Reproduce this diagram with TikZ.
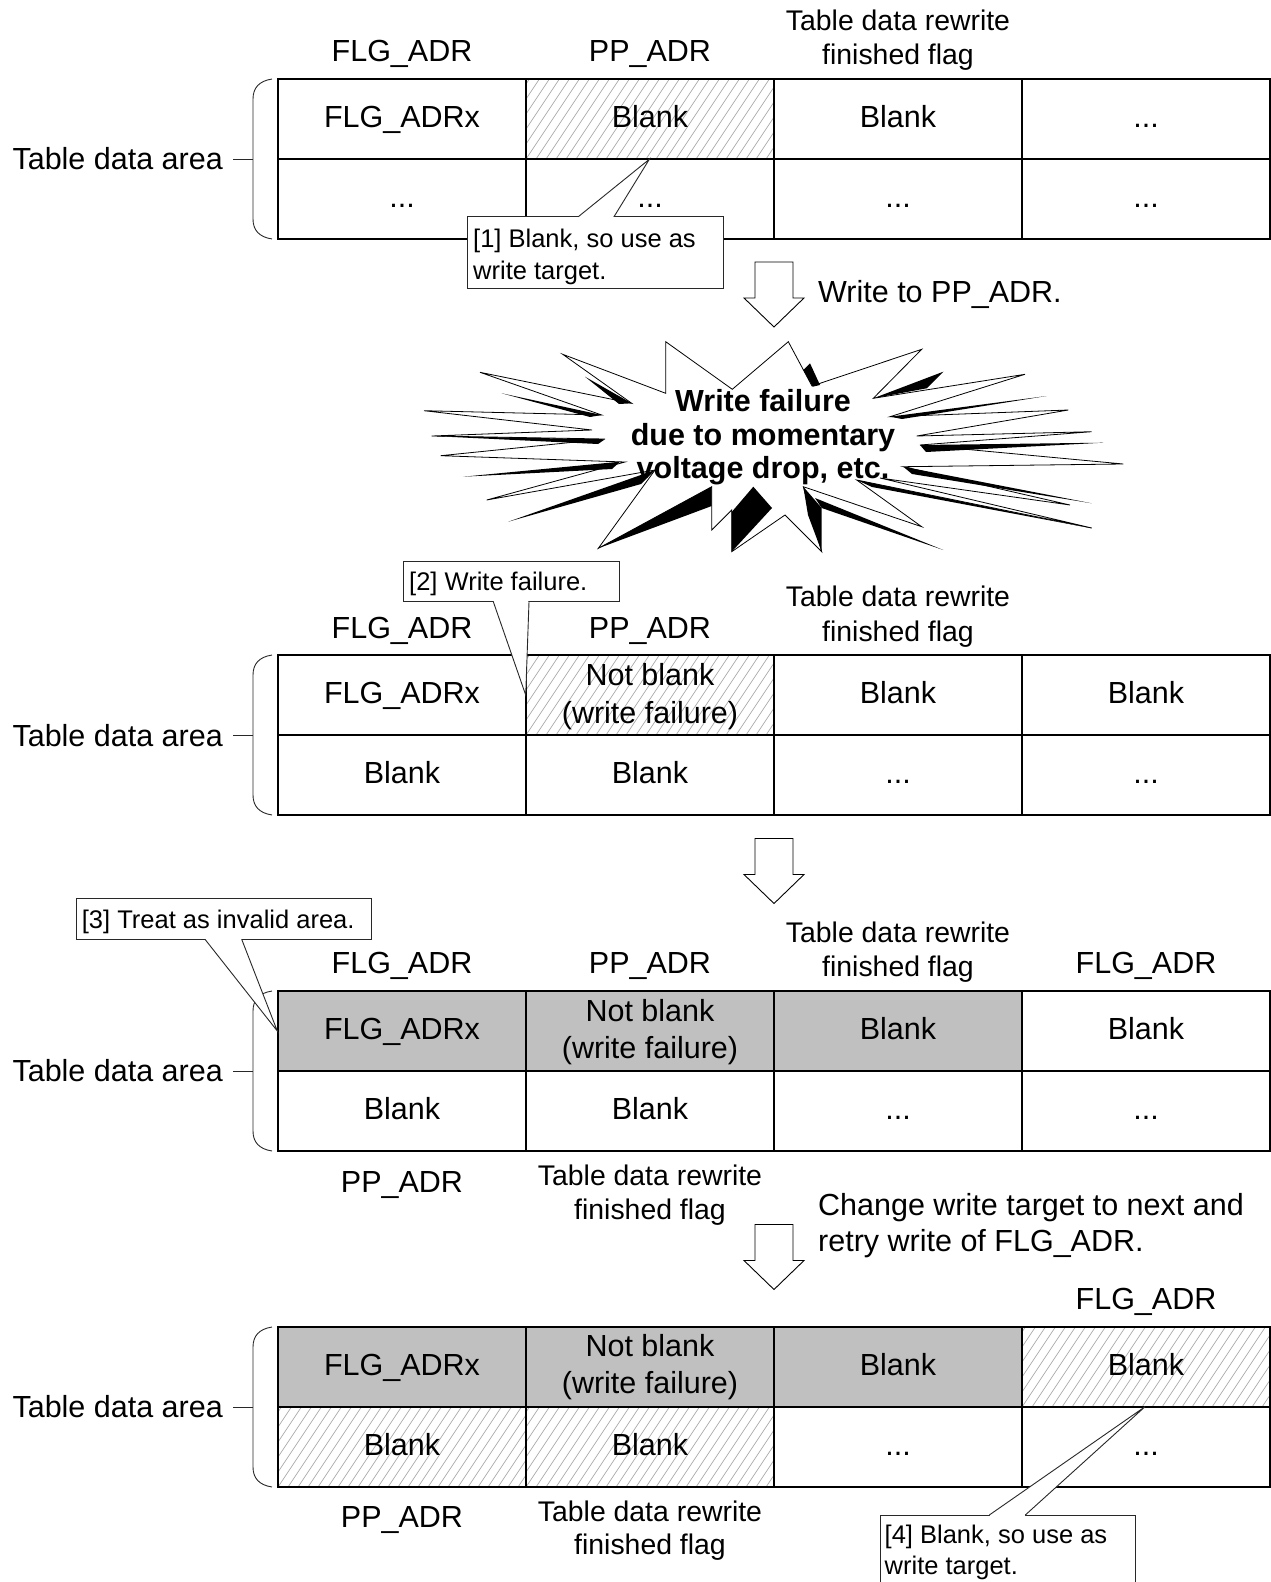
\documentclass[tikz,border=0pt]{standalone}
\usepackage{fontspec}
\setmainfont{Liberation Sans}
\usetikzlibrary{calc}
\definecolor{cellgrey}{RGB}{192,192,192}
\definecolor{hatchgrey}{RGB}{170,170,170}
\definecolor{linegrey}{RGB}{40,40,40}
\newcommand\fmain{\fontsize{30.5}{34.3}\selectfont}
\newcommand\fhead{\fontsize{28.4}{34}\selectfont}
\newcommand\fcall{\fontsize{25.5}{31.5}\selectfont}
\newcommand\fstar{\bfseries\fontsize{30.5}{33.8}\selectfont}
\tikzset{
  cell/.style={draw, line width=1.5pt, minimum width=248pt, minimum height=80pt, inner sep=0pt},
  grey/.style={fill=cellgrey},
  hatch/.style={path picture={
      \foreach \k in {-140,-130,...,260}{
        \draw[hatchgrey, line width=0.7pt] ([xshift=\k]path picture bounding box.south west) -- ++(60pt,90pt);}}},
  txt/.style={font=\fmain, inner sep=0pt, anchor=base},
  htxt/.style={font=\fhead, inner sep=0pt, anchor=base},
  ctxt/.style={font=\fcall, inner sep=0pt, anchor=base west},
  cbox/.style={draw=linegrey, line width=0.9pt, fill=white},
  cptr/.style={draw=linegrey, line width=0.9pt},
  barrow/.style={draw, line width=0.9pt, fill=white, line join=miter},
  brk/.style={draw=linegrey, line width=0.9pt},
}
\begin{document}
\begin{tikzpicture}[x=1pt,y=-1pt]
\useasboundingbox (0,0) rectangle (1271,1582);
\clip (0,0) rectangle (1271,1582);
\fill[white] (0,0) rectangle (1271,1582);

% ---------------- Table 1 ----------------
\node[cell] (a11) at (402,119) {};
\node[cell, hatch] (a12) at (650,119) {};
\node[cell] (a13) at (898,119) {};
\node[cell] (a14) at (1146,119) {};
\node[cell] (a21) at (402,199) {};
\node[cell] (a22) at (650,199) {};
\node[cell] (a23) at (898,199) {};
\node[cell] (a24) at (1146,199) {};
\node[txt] (a11t) at (402,127.5) {FLG\_ADRx};
\node[txt] (a12t) at (650,127.5) {Blank};
\node[txt] (a13t) at (898,127.5) {Blank};
\node[txt] (a14t) at (1146,127.5) {...};
\node[txt] (a21t) at (402,207.5) {...};
\node[txt] (a22t) at (650,207.5) {...};
\node[txt] (a23t) at (898,207.5) {...};
\node[txt] (a24t) at (1146,207.5) {...};
\node[txt] (ah1) at (402,61.4) {FLG\_ADR};
\node[txt] (ah2) at (650,61.4) {PP\_ADR};
\node[htxt] (ah3a) at (898,30.8) {Table data rewrite};
\node[htxt] (ah3b) at (898,64.8) {finished flag};
\node[txt, anchor=base east] (alab) at (223,169.3) {Table data area};
\coordinate (abr) at (253,159);
\draw[brk] (272,79) .. controls (259,81) and (253,88) .. (253,99) -- (253,219) .. controls (253,230) and (259,237) .. (272,239);
\draw[brk] ([xshift=10pt]alab.east |- abr) -- (abr);

% ---------------- Arrow 1 ----------------
\draw[barrow] (755,262) -- (793,262) -- (793,298) -- (804,298) -- (774,327) -- (744,298) -- (755,298) -- cycle;
\node[txt, anchor=base west] (w1) at (818,302) {Write to PP\_ADR.};

% ---------------- Starburst ----------------
\draw[fill=white, line width=0.8pt, line join=miter]
 (665.7,341.7) -- (732.3,389.3) -- (788.3,341.7) -- (812,386) -- (921.7,349.3) -- (873.3,398.3)
 -- (1025,374.3) -- (890,416.7) -- (1068.3,410) -- (916.7,436) -- (1091.7,431.7) -- (920,445)
 -- (1123.3,464) -- (903.3,466.7) -- (1070,505) -- (880,478) -- (1091.7,528) -- (856.7,480)
 -- (921.7,526.7) -- (803.3,486.7) -- (821.7,551.7) -- (785,515) -- (731.7,551.7) -- (731.7,510)
 -- (711.7,530) -- (711.7,486.7) -- (598.3,548.3) -- (655,470) -- (486.7,500) -- (625,462)
 -- (440.7,455.7) -- (605,439) -- (431.7,436) -- (592,430) -- (424,410.7) -- (601.7,415)
 -- (480,372.3) -- (631.7,403.3) -- (562.7,354.3) -- (665.7,393.3) -- cycle;
\fill[black] (585,376.7) -- (631.7,403.3) -- (619,404) -- cycle;
\fill[black] (501.7,393.3) -- (601.7,415) -- (590,417) -- cycle;
\fill[black] (431.7,436) -- (605,439.3) -- (598,444) -- cycle;
\fill[black] (463.3,476.7) -- (620,461.7) -- (612,469) -- cycle;
\fill[black] (508.3,521.7) -- (655,470) -- (641,484) -- cycle;
\fill[black] (598.3,548.3) -- (711.7,486.7) -- (711.7,506) -- cycle;
\fill[black] (731.7,551.7) -- (731.7,512) -- (753.3,486.7) -- (772,508) -- cycle;
\fill[black] (803.3,486.7) -- (821.7,508) -- (821.7,551.7) -- (808,515) -- cycle;
\fill[black] (821.7,508) -- (943.3,550) -- (815,498) -- cycle;
\fill[black] (1091.7,528.3) -- (856.7,480) -- (872,487) -- cycle;
\fill[black] (1091.7,503.3) -- (903.3,466.7) -- (912,474) -- cycle;
\fill[black] (1103.3,442.7) -- (920,445) -- (926,452) -- cycle;
\fill[black] (1046.7,396) -- (890,416.7) -- (902,419) -- cycle;
\fill[black] (943.3,371.7) -- (873.3,398.3) -- (926.7,388.3) -- cycle;
\fill[black] (803.3,370) -- (810,363.3) -- (820,385) -- (812.7,386.7) -- cycle;
\node[font=\fstar, inner sep=0pt, anchor=base] (s1) at (763,411.4) {Write failure};
\node[font=\fstar, inner sep=0pt, anchor=base] (s2) at (763,445.4) {due to momentary};
\node[font=\fstar, inner sep=0pt, anchor=base] (s3) at (763,478.9) {voltage drop, etc.};

% ---------------- Table 2 ----------------
\node[cell] (b11) at (402,695) {};
\node[cell, hatch] (b12) at (650,695) {};
\node[cell] (b13) at (898,695) {};
\node[cell] (b14) at (1146,695) {};
\node[cell] (b21) at (402,775) {};
\node[cell] (b22) at (650,775) {};
\node[cell] (b23) at (898,775) {};
\node[cell] (b24) at (1146,775) {};
\node[txt] (b11t) at (402,703.5) {FLG\_ADRx};
\node[txt] (b12t) at (650,685.7) {Not blank};
\node[txt] (b12u) at (650,723) {(write failure)};
\node[txt] (b13t) at (898,703.5) {Blank};
\node[txt] (b14t) at (1146,703.5) {Blank};
\node[txt] (b21t) at (402,783.5) {Blank};
\node[txt] (b22t) at (650,783.5) {Blank};
\node[txt] (b23t) at (898,783.5) {...};
\node[txt] (b24t) at (1146,783.5) {...};
\node[txt] (bh1) at (402,638.3) {FLG\_ADR};
\node[txt] (bh2) at (650,638.3) {PP\_ADR};
\node[htxt] (bh3a) at (898,606.8) {Table data rewrite};
\node[htxt] (bh3b) at (898,641.1) {finished flag};
\node[txt, anchor=base east] (blab) at (223,746.2) {Table data area};
\coordinate (bbr) at (253,735);
\draw[brk] (272,655) .. controls (259,657) and (253,664) .. (253,675) -- (253,795) .. controls (253,806) and (259,813) .. (272,815);
\draw[brk] ([xshift=10pt]blab.east |- bbr) -- (bbr);

% ---------------- Arrow 2 ----------------
\draw[barrow] (755,838.5) -- (793,838.5) -- (793,874.5) -- (804,874.5) -- (774,903.5) -- (744,874.5) -- (755,874.5) -- cycle;

% ---------------- Table 3 ----------------
\node[cell, grey] (c11) at (402,1031) {};
\node[cell, grey] (c12) at (650,1031) {};
\node[cell, grey] (c13) at (898,1031) {};
\node[cell] (c14) at (1146,1031) {};
\node[cell] (c21) at (402,1111) {};
\node[cell] (c22) at (650,1111) {};
\node[cell] (c23) at (898,1111) {};
\node[cell] (c24) at (1146,1111) {};
\node[txt] (c11t) at (402,1039.5) {FLG\_ADRx};
\node[txt] (c12t) at (650,1021.6) {Not blank};
\node[txt] (c12u) at (650,1058.9) {(write failure)};
\node[txt] (c13t) at (898,1039.5) {Blank};
\node[txt] (c14t) at (1146,1039.5) {Blank};
\node[txt] (c21t) at (402,1119.5) {Blank};
\node[txt] (c22t) at (650,1119.5) {Blank};
\node[txt] (c23t) at (898,1119.5) {...};
\node[txt] (c24t) at (1146,1119.5) {...};
\node[txt] (ch1) at (402,973.2) {FLG\_ADR};
\node[txt] (ch2) at (650,973.2) {PP\_ADR};
\node[htxt] (ch3a) at (898,942.6) {Table data rewrite};
\node[htxt] (ch3b) at (898,976.9) {finished flag};
\node[txt] (ch4) at (1146,973.2) {FLG\_ADR};
\node[txt] (cf1) at (402,1192.1) {PP\_ADR};
\node[htxt] (cf2a) at (650,1185.7) {Table data rewrite};
\node[htxt] (cf2b) at (650,1219) {finished flag};
\node[txt, anchor=base east] (clab) at (223,1081) {Table data area};
\coordinate (cbr) at (253,1071);
\draw[brk] (272,991) .. controls (259,993) and (253,1000) .. (253,1011) -- (253,1131) .. controls (253,1142) and (259,1149) .. (272,1151);
\draw[brk] ([xshift=10pt]clab.east |- cbr) -- (cbr);

% ---------------- Arrow 3 ----------------
\draw[barrow] (755,1224.5) -- (793,1224.5) -- (793,1260.5) -- (804,1260.5) -- (774,1289.5) -- (744,1260.5) -- (755,1260.5) -- cycle;
\node[txt, anchor=base west] (w3a) at (818,1215.3) {Change write target to next and};
\node[txt, anchor=base west] (w3b) at (818,1251.7) {retry write of FLG\_ADR.};

% ---------------- Table 4 ----------------
\node[cell, grey] (d11) at (402,1367) {};
\node[cell, grey] (d12) at (650,1367) {};
\node[cell, grey] (d13) at (898,1367) {};
\node[cell, hatch] (d14) at (1146,1367) {};
\node[cell, hatch] (d21) at (402,1447) {};
\node[cell, hatch] (d22) at (650,1447) {};
\node[cell] (d23) at (898,1447) {};
\node[cell] (d24) at (1146,1447) {};
\node[txt] (d11t) at (402,1375.5) {FLG\_ADRx};
\node[txt] (d12t) at (650,1356.5) {Not blank};
\node[txt] (d12u) at (650,1393.9) {(write failure)};
\node[txt] (d13t) at (898,1375.5) {Blank};
\node[txt] (d14t) at (1146,1375.5) {Blank};
\node[txt] (d21t) at (402,1455.5) {Blank};
\node[txt] (d22t) at (650,1455.5) {Blank};
\node[txt] (d23t) at (898,1455.5) {...};
\node[txt] (d24t) at (1146,1455.5) {...};
\node[txt] (dh4) at (1146,1309.1) {FLG\_ADR};
\node[txt] (df1) at (402,1527.9) {PP\_ADR};
\node[htxt] (df2a) at (650,1521.6) {Table data rewrite};
\node[htxt] (df2b) at (650,1554.9) {finished flag};
\node[txt, anchor=base east] (dlab) at (223,1417) {Table data area};
\coordinate (dbr) at (253,1407);
\draw[brk] (272,1327) .. controls (259,1329) and (253,1336) .. (253,1347) -- (253,1467) .. controls (253,1478) and (259,1485) .. (272,1487);
\draw[brk] ([xshift=10pt]dlab.east |- dbr) -- (dbr);

% ---------------- Callouts ----------------
% [1]
\draw[cbox] (467.3,216.7) rectangle (723.3,288.3);
\coordinate (p1a) at (578.3,216.7);
\coordinate (p1b) at (614,216.7);
\coordinate (p1t) at (649.3,159.3);
\fill[white] (p1a) -- (p1t) -- (p1b) -- cycle;
\fill[white] ($(p1a)+(0.6,-1.2)$) rectangle ($(p1b)+(-0.6,1.2)$);
\draw[cptr] (p1a) -- (p1t) -- (p1b);
\node[ctxt] (k1a) at (473,247.4) {[1] Blank, so use as};
\node[ctxt] (k1b) at (473,279.1) {write target.};
% [2]
\draw[cbox] (403.3,561) rectangle (619.3,601.7);
\coordinate (p2a) at (493.3,601.7);
\coordinate (p2b) at (529,601.7);
\coordinate (p2t) at (525.7,695);
\fill[white] (p2a) -- (p2t) -- (p2b) -- cycle;
\fill[white] ($(p2a)+(0.6,-1.2)$) rectangle ($(p2b)+(-0.6,1.2)$);
\draw[cptr] (p2a) -- (p2t) -- (p2b);
\node[ctxt] (k2) at (409,590.3) {[2] Write failure.};
% [3]
\draw[cbox] (76,898.3) rectangle (371.7,939.3);
\coordinate (p3a) at (205,939.3);
\coordinate (p3b) at (241.7,939.3);
\coordinate (p3t) at (277.3,1031);
\fill[white] (p3a) -- (p3t) -- (p3b) -- cycle;
\fill[white] ($(p3a)+(0.6,-1.2)$) rectangle ($(p3b)+(-0.6,1.2)$);
\draw[cptr] (p3a) -- (p3t) -- (p3b);
\node[ctxt] (k3) at (81.7,928) {[3] Treat as invalid area.};
% [4]
\draw[cbox] (880,1515) rectangle (1135,1600);
\coordinate (p4a) at (989.3,1515);
\coordinate (p4b) at (1025.3,1515);
\coordinate (p4t) at (1145,1406.7);
\fill[white] (p4a) -- (p4t) -- (p4b) -- cycle;
\fill[white] ($(p4a)+(0.6,-1.2)$) rectangle ($(p4b)+(-0.6,1.2)$);
\draw[cptr] (p4a) -- (p4t) -- (p4b);
\node[ctxt] (k4a) at (884.5,1543) {[4] Blank, so use as};
\node[ctxt] (k4b) at (884.5,1574.6) {write target.};
\end{tikzpicture}
\end{document}
